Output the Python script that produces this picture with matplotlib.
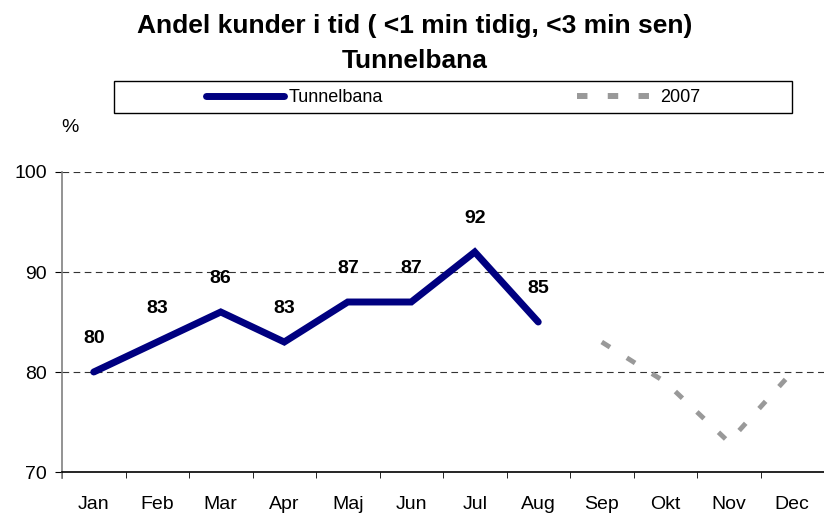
import matplotlib.pyplot as plt
from matplotlib.lines import Line2D
from matplotlib.patches import Rectangle
import numpy as np

plt.rcParams['font.family'] = ['Liberation Sans', 'DejaVu Sans']

months = ['Jan', 'Feb', 'Mar', 'Apr', 'Maj', 'Jun', 'Jul', 'Aug', 'Sep', 'Okt', 'Nov', 'Dec']
tunnelbana = [80, 83, 86, 83, 87, 87, 92, 85]
prev_2007 = [83, 79, 73, 80]  # Sep-Dec

NAVY = '#000080'
GRAY = '#999999'

fig = plt.figure(figsize=(8.24, 5.16), dpi=100)
ax = fig.add_axes([62/824, 1 - 472/516, 1 - 62/824, 300/516])

x = np.arange(len(months))
ax.plot(x[:len(tunnelbana)], tunnelbana, color=NAVY, lw=5,
        solid_capstyle='round', solid_joinstyle='miter', zorder=3)
ax.plot(x[8:8 + len(prev_2007)], prev_2007, color=GRAY, lw=3.5,
        dashes=(2.0, 4.1), zorder=3)

for i, v in enumerate(tunnelbana):
    ax.annotate(str(v), (x[i], v), xytext=(0, 24),
                textcoords='offset points', ha='center', va='center',
                fontsize=14, fontweight='bold')

ax.set_xlim(-0.5, 11.5)
ax.set_ylim(70, 100)
ax.set_yticks([70, 80, 90, 100])
ax.set_xticks(x)
ax.set_xticklabels(months)
ax.set_xticks(np.arange(-0.5, 12, 1), minor=True)
ax.tick_params(axis='x', which='major', length=0, pad=17, labelsize=14)
ax.tick_params(axis='x', which='minor', length=4.5, direction='out', color='black')
ax.tick_params(axis='y', length=5, direction='out', labelsize=14, color='black', pad=6)
for yv in [80, 90, 100]:
    ax.axhline(yv, color='#333333', lw=0.8, ls=(0, (6, 4)), zorder=1)
for s in ['top', 'right']:
    ax.spines[s].set_visible(False)
ax.spines['left'].set_color('#808080')
ax.spines['left'].set_linewidth(1.2)
ax.spines['bottom'].set_color('black')
ax.spines['bottom'].set_linewidth(1.2)
ax.spines['left'].set_bounds(69.4, 100)

fig.text(415/824, 1 - 33/516, 'Andel kunder i tid ( <1 min tidig, <3 min sen)',
         ha='center', va='baseline', fontsize=19, fontweight='bold')
fig.text(415/824, 1 - 68/516, 'Tunnelbana', ha='center', va='baseline',
         fontsize=19, fontweight='bold')
fig.text(70/824, 1 - 128/516, '%', ha='center', va='center', fontsize=14)

# legend frame
fig.patches.append(Rectangle((114/824, 1 - 113/516), 678/824, 32/516,
                             transform=fig.transFigure, fill=False,
                             edgecolor='black', lw=1.0))
handles = [Line2D([], [], color=NAVY, lw=5, solid_capstyle='round'),
           Line2D([], [], color=GRAY, lw=4.3, dashes=(1.75, 3.4))]
leg = fig.legend(handles, ['Tunnelbana', '2007'], ncol=2,
                 bbox_to_anchor=(206/824, 1 - 97.5/516), loc='center left',
                 frameon=False, fontsize=13, handlelength=4.3,
                 handletextpad=0.3, columnspacing=10.7,
                 borderaxespad=0, borderpad=0)

fig.savefig('out.png', dpi=100)
